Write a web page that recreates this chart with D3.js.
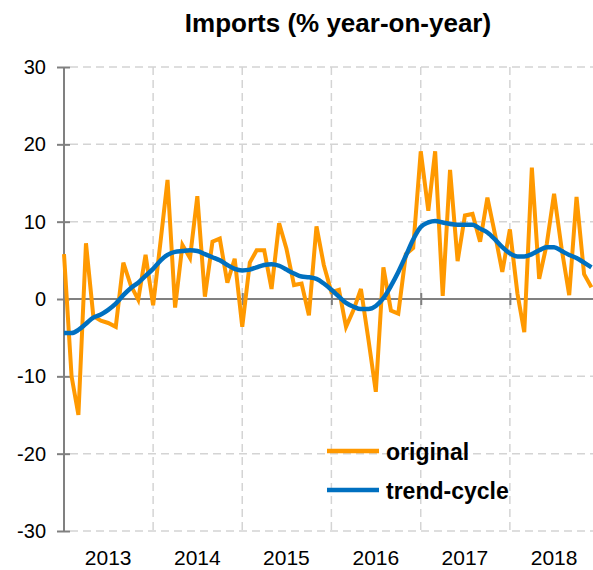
<!DOCTYPE html>
<meta charset="utf-8">
<title>Imports</title>
<style>
body {
  margin: 0px;
  background: #fff;
}
svg {
  font-family: "Liberation Sans", Arial, sans-serif;
}
.grid line {
  stroke: #d4d4d4;
  stroke-width: 1.5;
  stroke-dasharray: 8,5;
}
.axis path, .axis line {
  stroke: #808080;
  stroke-width: 2;
  fill: none;
}
</style>
<script src="https://d3js.org/d3.v7.min.js"></script>
<body>
<script>
var width = 593, height = 570;

// chart data
var years = ["2013", "2014", "2015", "2016", "2017", "2018"];
var yTicks = [-30, -20, -10, 0, 10, 20, 30];
var original = [
  5.8, -10.0, -15.0, 7.2, -2.2, -2.8, -3.1, -3.6, 4.7, 1.8, -0.1, 5.7,
  -0.8, 7.6, 15.4, -1.1, 7.0, 5.3, 13.3, 0.3, 7.4, 7.8, 2.1, 5.2,
  -3.6, 4.7, 6.3, 6.3, 1.3, 9.8, 6.5, 1.8, 2.0, -2.1, 9.4, 4.4,
  0.9, 1.2, -3.6, -1.4, 1.3, -5.3, -12.0, 4.1, -1.5, -1.9, 5.8, 6.6,
  19.1, 11.4, 19.1, 0.4, 16.7, 4.9, 10.8, 11.0, 7.4, 13.1, 8.4, 3.5,
  9.0, 0.7, -4.3, 17.0, 2.6, 7.1, 13.6, 6.5, 0.5, 13.2, 3.2, 1.5
];
var trend = [
  -4.4, -4.4, -4.0, -3.2, -2.4, -2.0, -1.4, -0.6, 0.5, 1.4, 2.1, 3.0,
  3.9, 5.0, 5.7, 6.1, 6.2, 6.3, 6.2, 5.8, 5.4, 5.0, 4.4, 3.9,
  3.7, 3.8, 4.1, 4.4, 4.5, 4.3, 3.8, 3.3, 2.9, 2.8, 2.6, 2.0,
  1.2, 0.3, -0.5, -1.0, -1.3, -1.3, -0.9, 0.1, 1.7, 3.5, 5.6, 7.7,
  9.3, 9.9, 10.1, 9.9, 9.7, 9.6, 9.6, 9.6, 9.1, 8.6, 7.7, 6.7,
  5.9, 5.5, 5.5, 5.8, 6.3, 6.7, 6.7, 6.2, 5.7, 5.3, 4.7, 4.1
];
var months = d3.timeMonth.range(new Date(2013, 0, 1), new Date(2019, 0, 1));

var svg = d3.select("body").append("svg")
    .attr("width", width)
    .attr("height", height);

var x = d3.scaleTime()
    .domain([new Date(2013, 0, 1), new Date(2019, 0, 1)])
    .range([64, 599]);
var y = d3.scaleLinear()
    .domain([-30, 30])
    .range([531, 67]);

var yearStarts = years.map(function(d) { return new Date(+d, 0, 1); });
var yearMids = years.map(function(d) { return new Date(+d, 6, 1); });

// gridlines
var grid = svg.append("g").attr("class", "grid");
grid.selectAll(".h")
    .data(yTicks.filter(function(d) { return d !== 0; }))
  .enter().append("line")
    .attr("x1", 70).attr("x2", 599)
    .attr("y1", y).attr("y2", y);
grid.selectAll(".v")
    .data(yearStarts.slice(1))
  .enter().append("line")
    .attr("x1", x).attr("x2", x)
    .attr("y1", y(30)).attr("y2", y(-30));

// zero line with year ticks
var zero = svg.append("g")
    .attr("class", "axis")
    .attr("transform", "translate(0," + y(0) + ")")
    .call(d3.axisBottom(x).tickValues(yearStarts.slice(1)).tickSize(6).tickFormat(""));
zero.select(".domain").attr("d", "M64,0H599");
zero.selectAll(".tick line").attr("y1", -6).attr("y2", 6);

// left axis
var yAxis = svg.append("g")
    .attr("class", "axis")
    .attr("transform", "translate(64,0)")
    .call(d3.axisLeft(y).tickValues(yTicks).tickSize(7).tickPadding(11)
      .tickFormat(function(d) { return String(d); }));
yAxis.select(".domain").attr("d", "M0," + y(30) + "V" + y(-30));
yAxis.selectAll(".tick line").attr("x2", 6).attr("x1", -7);
yAxis.selectAll(".tick text")
    .style("font-size", "20px")
    .style("fill", "#000");

// year labels
svg.append("g").selectAll("text")
    .data(years)
  .enter().append("text")
    .attr("x", function(d, i) { return x(yearMids[i]); })
    .attr("y", 565)
    .attr("text-anchor", "middle")
    .style("font-size", "21px")
    .text(function(d) { return d; });

// series
var line = d3.line()
    .x(function(d, i) { return x(months[i]); })
    .y(function(d) { return y(d); });

svg.append("path")
    .datum(original)
    .attr("fill", "none")
    .attr("stroke", "#ff9900")
    .attr("stroke-width", 4)
    .attr("d", line);

svg.append("path")
    .datum(trend)
    .attr("fill", "none")
    .attr("stroke", "#0070c0")
    .attr("stroke-width", 4.5)
    .attr("d", line.curve(d3.curveMonotoneX));

// title
svg.append("text")
    .attr("x", 338)
    .attr("y", 32)
    .attr("text-anchor", "middle")
    .style("font-size", "26px")
    .style("font-weight", "bold")
    .text("Imports (% year-on-year)");

// legend
var legend = svg.append("g").selectAll("g")
    .data([{name: "original", color: "#ff9900", y: 451},
           {name: "trend-cycle", color: "#0070c0", y: 490}])
  .enter().append("g")
    .attr("transform", function(d) { return "translate(327," + d.y + ")"; });
legend.append("line")
    .attr("x1", 0).attr("x2", 52)
    .attr("stroke", function(d) { return d.color; })
    .attr("stroke-width", 4.5);
legend.append("text")
    .attr("x", 59)
    .attr("y", 8.5)
    .style("font-size", "23px")
    .style("font-weight", "bold")
    .text(function(d) { return d.name; });
</script>
